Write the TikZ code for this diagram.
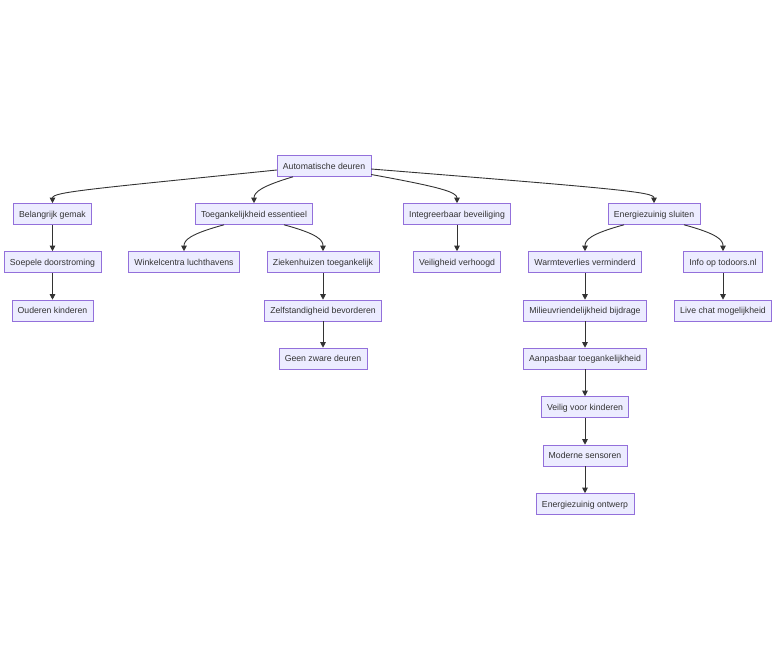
\documentclass[tikz,border=0pt]{standalone}
\usepackage{fontspec}
\setmainfont{Liberation Sans}
\usetikzlibrary{arrows.meta}
\definecolor{nodefill}{HTML}{ECECFF}
\definecolor{nodeline}{HTML}{9370DB}
\definecolor{ink}{HTML}{333333}
\begin{document}
\begin{tikzpicture}[x=1pt,y=-1pt,
  box/.style={draw=nodeline,fill=nodefill,line width=0.6pt,text=ink,
    font=\fontsize{8.7}{10}\selectfont,inner xsep=5.8pt,inner ysep=0pt,
    text height=7.4pt,text depth=1.4pt,
    minimum height=21pt,anchor=center},
  link/.style={draw=ink,line width=0.9pt,-{Triangle[length=5.5pt,width=5.5pt]}}]
\useasboundingbox (0,0) rectangle (784,670);
\node[box] (root) at (324,166) {Automatische deuren};
\node[box] (bel) at (52.5,214) {Belangrijk gemak};
\node[box] (toe) at (254,214) {Toegankelijkheid essentieel};
\node[box] (int) at (457,214) {Integreerbaar beveiliging};
\node[box] (ene) at (654,214) {Energiezuinig sluiten};
\node[box] (soe) at (52.5,262) {Soepele doorstroming};
\node[box] (win) at (184,262) {Winkelcentra luchthavens};
\node[box] (zie) at (323,262) {Ziekenhuizen toegankelijk};
\node[box] (vei) at (457,262) {Veiligheid verhoogd};
\node[box] (war) at (585,262) {Warmteverlies verminderd};
\node[box] (inf) at (723,262) {Info op todoors.nl};
\node[box] (oud) at (52.5,310.5) {Ouderen kinderen};
\node[box] (zel) at (323,310.5) {Zelfstandigheid bevorderen};
\node[box] (mil) at (585,310.5) {Milieuvriendelijkheid bijdrage};
\node[box] (liv) at (723,310.5) {Live chat mogelijkheid};
\node[box] (gee) at (323,358.5) {Geen zware deuren};
\node[box] (aan) at (585,358.5) {Aanpasbaar toegankelijkheid};
\node[box] (vvk) at (585,407) {Veilig voor kinderen};
\node[box] (mod) at (585,455.5) {Moderne sensoren};
\node[box] (eno) at (585,504) {Energiezuinig ontwerp};

\draw[link] ([yshift=-4pt]root.west) .. controls (90,189) and (52.5,192) .. (bel.north);
\draw[link] ([xshift=-31pt]root.south) .. controls (262,186) and (254,192) .. (toe.north);
\draw[link] ([yshift=-8.5pt]root.east) .. controls (440,187) and (457,192) .. (int.north);
\draw[link] ([yshift=-3pt]root.east) .. controls (620,189) and (654,192) .. (ene.north);
\draw[link] ([xshift=-30pt]toe.south) .. controls (190,234) and (184,240) .. (win.north);
\draw[link] ([xshift=30pt]toe.south) .. controls (318,234) and (323,240) .. (zie.north);
\draw[link] ([xshift=-30pt]ene.south) .. controls (590,234) and (585,240) .. (war.north);
\draw[link] ([xshift=30pt]ene.south) .. controls (718,234) and (723,240) .. (inf.north);
\draw[link] (bel) -- (soe);
\draw[link] (soe) -- (oud);
\draw[link] (zie) -- (zel);
\draw[link] (zel) -- (gee);
\draw[link] (int) -- (vei);
\draw[link] (war) -- (mil);
\draw[link] (mil) -- (aan);
\draw[link] (aan) -- (vvk);
\draw[link] (vvk) -- (mod);
\draw[link] (mod) -- (eno);
\draw[link] (inf) -- (liv);
\end{tikzpicture}
\end{document}
